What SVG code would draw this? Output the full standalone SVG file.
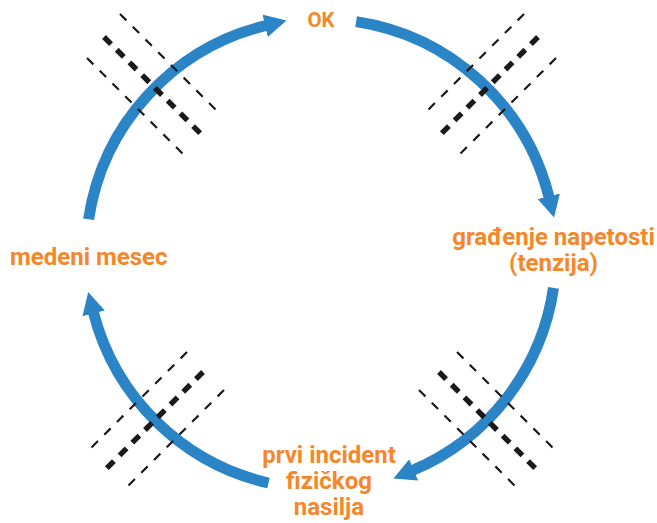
<svg xmlns="http://www.w3.org/2000/svg" width="657" height="523" viewBox="0 0 657 523">
  <style>
    .arc { fill: none; stroke: #2a84c6; stroke-width: 11; stroke-linecap: butt; }
    .thin { stroke: #1a1a1a; stroke-width: 2.2; stroke-dasharray: 9 9; fill: none; }
    .thick { stroke: #1a1a1a; stroke-width: 5.4; stroke-dasharray: 10 8; fill: none; }
    .lbl { font-family: Roboto, "Liberation Sans", sans-serif; font-weight: 700; fill: #f5872a; }
  </style>
  <defs>
    <marker id="ah" markerUnits="userSpaceOnUse" markerWidth="30" markerHeight="30" refX="1" refY="11.5" orient="auto">
      <path d="M0,0 L22,11.5 L0,23 z" fill="#2a84c6"/>
    </marker>
  </defs>
  <rect width="657" height="523" fill="#ffffff"/>
  <g id="connectors">
    <path class="arc" d="M88.6,219.3 A235,235 0 0 1 266.1,25.5" marker-end="url(#ah)"/>
    <path class="arc" d="M356.1,21.6 A235,235 0 0 1 549.0,197.2" marker-end="url(#ah)"/>
    <path class="arc" d="M553.5,287.9 A235,235 0 0 1 412.8,470.3" marker-end="url(#ah)"/>
    <path class="arc" d="M268.5,483 A235,235 0 0 1 93.4,312.4" marker-end="url(#ah)"/>
  </g>
  <g id="hatches">
    <g id="hatch-tl">
      <line class="thin" x1="120" y1="14" x2="218" y2="112"/>
      <line class="thick" x1="104" y1="37" x2="204" y2="137"/>
      <line class="thin" x1="87" y1="58" x2="186" y2="157"/>
    </g>
    <g id="hatch-tr">
      <line class="thin" x1="524" y1="14" x2="424" y2="114"/>
      <line class="thick" x1="538" y1="37" x2="438" y2="137"/>
      <line class="thin" x1="556" y1="58" x2="456" y2="158"/>
    </g>
    <g id="hatch-br">
      <line class="thin" x1="457" y1="352" x2="556" y2="451"/>
      <line class="thick" x1="439" y1="372" x2="539" y2="472"/>
      <line class="thin" x1="419" y1="390" x2="518" y2="489"/>
    </g>
    <g id="hatch-bl">
      <line class="thin" x1="187" y1="352" x2="86" y2="453"/>
      <line class="thick" x1="203" y1="372" x2="103" y2="472"/>
      <line class="thin" x1="224" y1="390" x2="124" y2="490"/>
    </g>
  </g>
  <g id="node-ok">
    <text class="lbl" x="321" y="27" font-size="20.5" text-anchor="middle">OK</text>
  </g>
  <g id="node-gradenje">
    <text class="lbl" x="553.5" y="245" font-size="24" text-anchor="middle">građenje napetosti</text>
    <text class="lbl" x="553.5" y="271" font-size="24" text-anchor="middle">(tenzija)</text>
  </g>
  <g id="node-incident">
    <text class="lbl" x="329" y="463" font-size="24" text-anchor="middle">prvi incident</text>
    <text class="lbl" x="329" y="489" font-size="24" text-anchor="middle">fizičkog</text>
    <text class="lbl" x="329" y="515" font-size="24" text-anchor="middle">nasilja</text>
  </g>
  <g id="node-medeni">
    <text class="lbl" x="10" y="265" font-size="24">medeni mesec</text>
  </g>
</svg>
